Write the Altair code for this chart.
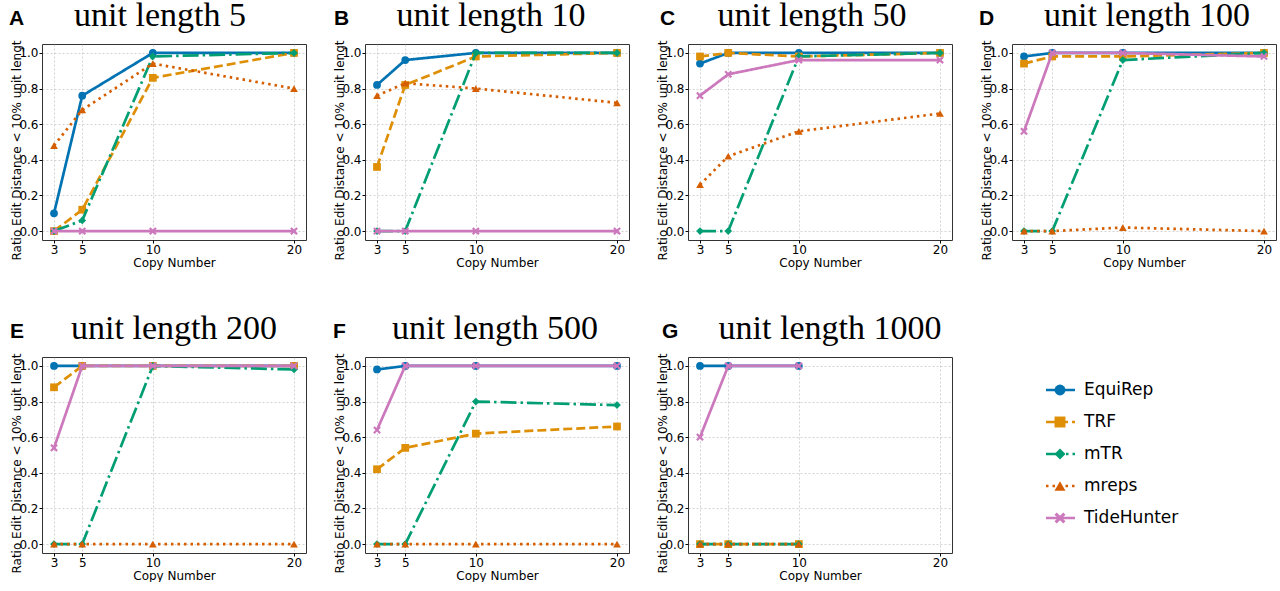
import altair as alt
import pandas as pd

copy_numbers = [3, 5, 10, 20]
panel_letters = ["A", "B", "C", "D", "E", "F", "G"]
unit_lengths = [5, 10, 50, 100, 200, 500, 1000]
series = ["EquiRep", "TRF", "mTR", "mreps", "TideHunter"]
colors = ["#0173b2", "#de8f05", "#029e73", "#d55e00", "#cc78bc"]

# values per panel (A..G), per copy number 3, 5, 10, 20
equirep = [[0.10, 0.76, 1.00, 1.00], [0.82, 0.96, 1.00, 1.00], [0.94, 1.00, 1.00, 1.00],
           [0.98, 1.00, 1.00, 1.00], [1.00, 1.00, 1.00, 1.00], [0.98, 1.00, 1.00, 1.00],
           [1.00, 1.00, 1.00]]
trf = [[0.00, 0.12, 0.86, 1.00], [0.36, 0.82, 0.98, 1.00], [0.98, 1.00, 0.98, 1.00],
       [0.94, 0.98, 0.98, 1.00], [0.88, 1.00, 1.00, 1.00], [0.42, 0.54, 0.62, 0.66],
       [0.00, 0.00, 0.00]]
mtr = [[0.00, 0.06, 0.98, 1.00], [0.00, 0.00, 1.00, 1.00], [0.00, 0.00, 0.98, 1.00],
       [0.00, 0.00, 0.96, 1.00], [0.00, 0.00, 1.00, 0.98], [0.00, 0.00, 0.80, 0.78],
       [0.00, 0.00, 0.00]]
mreps = [[0.48, 0.68, 0.94, 0.80], [0.76, 0.83, 0.80, 0.72], [0.26, 0.42, 0.56, 0.66],
         [0.00, 0.00, 0.02, 0.00], [0.00, 0.00, 0.00, 0.00], [0.00, 0.00, 0.00, 0.00],
         [0.00, 0.00, 0.00]]
tidehunter = [[0.00, 0.00, 0.00, 0.00], [0.00, 0.00, 0.00, 0.00], [0.76, 0.88, 0.96, 0.96],
              [0.56, 1.00, 1.00, 0.98], [0.54, 1.00, 1.00, 1.00], [0.64, 1.00, 1.00, 1.00],
              [0.60, 1.00, 1.00]]

all_vals = [equirep, trf, mtr, mreps, tidehunter]
x_mark = "M-1,-0.6 L-0.6,-1 L0,-0.4 L0.6,-1 L1,-0.6 L0.4,0 L1,0.6 L0.6,1 L0,0.4 L-0.6,1 L-1,0.6 L-0.4,0 Z"
shapes = ["circle", "square", "diamond", "triangle-up", x_mark]
dashes = [[1, 0], [9, 4], [16, 4, 2.5, 4], [2.5, 4], [1, 0]]

# layout offsets of the panel letter and title (pixels, relative to plot area)
letter_dx = [-33, -31, -28, -33, -32, -32, -26]
title_dx = [-14, -6, -8, 3, 0, -2, 10]

rows = []
for s, vals in zip(series, all_vals):
    for p, pv in enumerate(vals):
        for c, v in zip(copy_numbers, pv):
            rows.append({"panel": p, "series": s, "copy": c, "ratio": v})
df = pd.DataFrame(rows)

W, H = 264, 196
xscale = alt.Scale(domain=[2.15, 20.85], nice=False, zero=False)
yscale = alt.Scale(domain=[-0.05, 1.05], nice=False, zero=False)
xaxis = alt.Axis(values=copy_numbers, format="d", title="Copy Number", grid=True,
                 labelPadding=1, titlePadding=2, labelFlush=False)
yaxis = alt.Axis(values=[0, 0.2, 0.4, 0.6, 0.8, 1.0], format=".1f",
                 title="Ratio Edit Distance < 10% unit lengt", grid=True,
                 labelPadding=1, titleX=-19, titleY=106, titleBaseline="bottom")


def decorate(layers, letter, title, ldx=-33, tdx=-6):
    one = pd.DataFrame({"letter": [letter], "title": [title]})
    lt = alt.Chart(one).mark_text(
        align="left", baseline="alphabetic", font="Liberation Sans", fontWeight="bold",
        fontSize=21, color="black"
    ).encode(text="letter:N", x=alt.value(ldx), y=alt.value(-19))
    tt = alt.Chart(one).mark_text(
        align="center", baseline="alphabetic", font="Liberation Serif", fontSize=34,
        color="black"
    ).encode(text="title:N", x=alt.value(W / 2 + tdx), y=alt.value(-18))
    return alt.layer(*layers, lt, tt).properties(width=W, height=H)


def panel(i):
    sub = df[df.panel == i]
    layers = []
    for s, col, d, sh in zip(series, colors, dashes, shapes):
        ds = sub[sub.series == s]
        base = alt.Chart(ds).encode(
            x=alt.X("copy:Q", scale=xscale, axis=xaxis),
            y=alt.Y("ratio:Q", scale=yscale, axis=yaxis),
        )
        layers.append(base.mark_line(color=col, strokeWidth=2.7, strokeDash=d))
        layers.append(base.mark_point(shape=sh, filled=True, color=col, size=60, opacity=1))
    return decorate(layers, panel_letters[i], f"unit length {unit_lengths[i]}",
                    letter_dx[i], title_dx[i])


leg_df = pd.DataFrame({"series": series, "idx": list(range(len(series)))})
leg_y = alt.Y("idx:Q", axis=None, scale=alt.Scale(domain=[0, 4], range=[33, 161]))
cscale = alt.Scale(domain=series, range=colors)
leg_base = alt.Chart(leg_df)
leg_line = leg_base.mark_rule(strokeWidth=2.7).encode(
    y=leg_y, x=alt.value(34), x2=alt.value(63),
    color=alt.Color("series:N", scale=cscale, legend=None),
    strokeDash=alt.StrokeDash("series:N", scale=alt.Scale(domain=series, range=dashes), legend=None),
)
leg_pt = leg_base.mark_point(filled=True, size=120, opacity=1).encode(
    y=leg_y, x=alt.value(48),
    color=alt.Color("series:N", scale=cscale, legend=None),
    shape=alt.Shape("series:N", scale=alt.Scale(domain=series, range=shapes), legend=None),
)
leg_txt = leg_base.mark_text(align="left", baseline="middle", fontSize=17,
                             font="DejaVu Sans", color="black").encode(
    y=leg_y, x=alt.value(72), text="series:N")
legend = decorate([leg_line, leg_pt, leg_txt], " ", " ").properties(
    view=alt.ViewBackground(stroke="transparent"))

row1 = alt.hconcat(*[panel(i) for i in range(4)], spacing=25)
row2 = alt.hconcat(*[panel(i) for i in range(4, 7)], legend, spacing=25)

chart = alt.vconcat(row1, row2, spacing=42).configure(
    padding={"left": 8, "top": -2, "right": 0, "bottom": 0},
    background="white",
).configure_view(stroke="#333333", strokeWidth=1).configure_axis(
    labelFont="DejaVu Sans", labelFontSize=12, labelColor="black",
    titleFont="DejaVu Sans", titleFontSize=12, titleFontWeight="normal", titleColor="black",
    tickColor="black", tickSize=3, domain=False,
    gridColor="#b0b0b0", gridDash=[2, 2], gridOpacity=0.7, gridWidth=0.8,
)

chart.save("out.html", embed_options={"renderer": "svg", "actions": False})
